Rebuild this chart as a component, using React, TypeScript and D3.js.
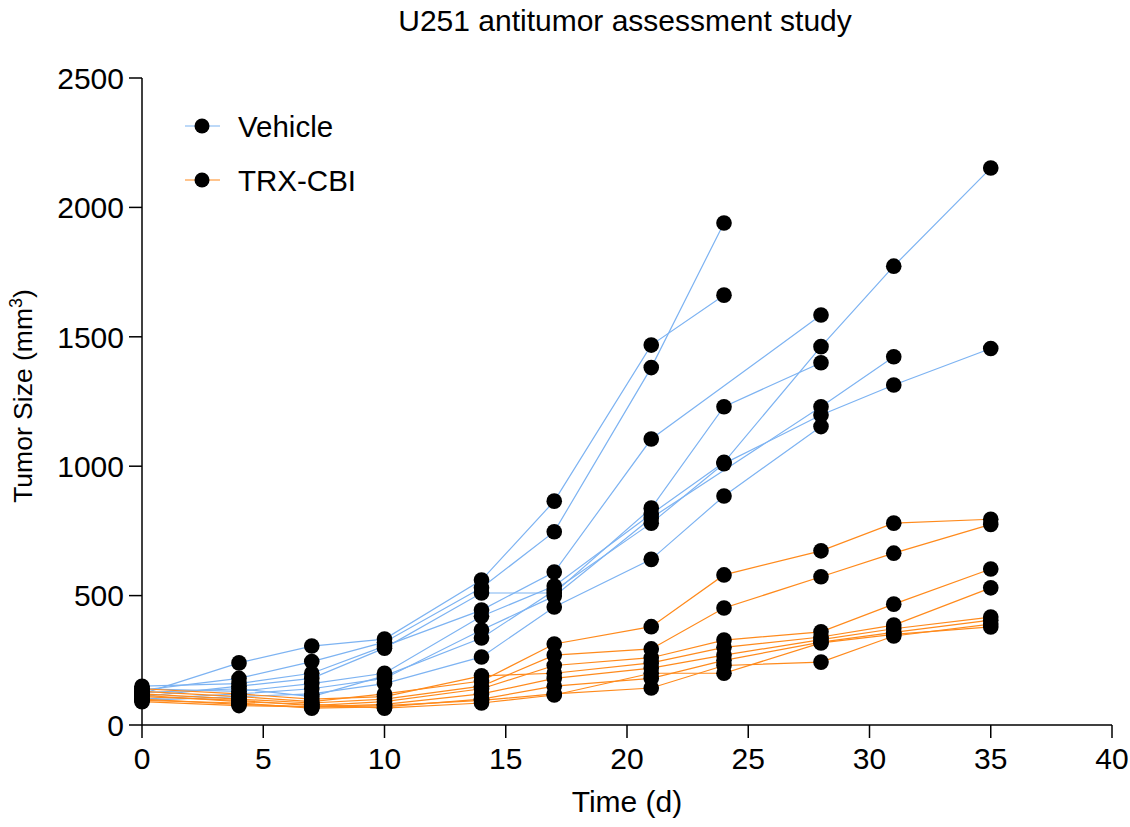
import * as d3 from 'd3';

// measurement days
const days = [0, 4, 7, 10, 14, 17, 21, 24, 28, 31, 35];

// Vehicle group, one array per mouse (null = no measurement)
const vehicle1 = [120, 240, 305, 332, 560, 865, 1468, 1661, null, null, null];
const vehicle2 = [135, 180, 245, 320, 530, 747, 1381, 1940, null, null, null];
const vehicle3 = [150, 160, 200, 305, 444, 591, 1105, null, 1584, null, null];
const vehicle4 = [110, 150, 180, 297, 510, 510, 838, 1230, 1400, null, null];
const vehicle5 = [140, 130, 160, 200, 420, 537, 815, 1015, 1462, 1773, 2152];
const vehicle6 = [100, 120, 140, 180, 367, 498, 800, null, 1230, 1423, null];
const vehicle7 = [95, 110, 120, 160, 263, 456, 640, 885, 1153, null, null];
const vehicle8 = [125, 140, 110, 190, 336, 520, 780, 1010, 1198, 1314, 1455];

// TRX-CBI group
const trx1 = [130, 110, 90, 120, 170, 313, 380, 580, 673, 780, 795];
const trx2 = [120, 100, 85, 100, 150, 270, 294, 452, 573, 664, 775];
const trx3 = [110, 95, 75, 90, 140, 230, 260, 328, 360, 467, 603];
const trx4 = [140, 120, 100, 110, 190, 200, 240, 300, 340, 386, 530];
const trx5 = [100, 80, 70, 80, 120, 180, 220, 270, 330, 372, 417];
const trx6 = [95, 85, 65, 70, 100, 150, 180, 250, 320, 358, 405];
const trx7 = [90, 75, 70, 75, 95, 120, 143, 230, 243, 344, 390];
const trx8 = [115, 90, 80, 65, 85, 116, 200, 200, 317, 350, 379];

const vehicleMice = [vehicle1, vehicle2, vehicle3, vehicle4, vehicle5, vehicle6, vehicle7, vehicle8];
const trxMice = [trx1, trx2, trx3, trx4, trx5, trx6, trx7, trx8];

const groupNames = ['Vehicle', 'TRX-CBI'];
const groupColors = ['#7db3f2', '#ff8a1c'];

const xTicks = [0, 5, 10, 15, 20, 25, 30, 35, 40];
const yTicks = [0, 500, 1000, 1500, 2000, 2500];

const font = '"Liberation Sans", Arial, sans-serif';

export default function App() {
  const width = 1130;
  const height = 827;
  const x = d3.scaleLinear().domain([0, 40]).range([142, 1112]);
  const y = d3.scaleLinear().domain([0, 2500]).range([725, 78]);

  const toPoints = (m: (number | null)[]) =>
    days.map((d, i) => [d, m[i]] as [number, number | null]).filter((p) => p[1] != null) as [number, number][];

  const line = d3
    .line<[number, number]>()
    .x((d) => x(d[0]))
    .y((d) => y(d[1]));

  const groups = [vehicleMice, trxMice];

  return (
    <svg
      width={width}
      height={height}
      style={{ position: 'absolute', left: 0, top: 0, background: '#fff' }}
      fontFamily={font}
    >
      {/* title */}
      <text x={625} y={31} textAnchor="middle" fontSize={30} fill="#000">
        U251 antitumor assessment study
      </text>

      {/* lines */}
      {groups.map((mice, gi) =>
        mice.map((m, i) => (
          <path
            key={`l${gi}-${i}`}
            d={line(toPoints(m)) || ''}
            fill="none"
            stroke={groupColors[gi]}
            strokeWidth={1.2}
          />
        ))
      )}

      {/* dots */}
      {groups.map((mice, gi) =>
        mice.map((m, i) =>
          toPoints(m).map((p, j) => (
            <circle key={`c${gi}-${i}-${j}`} cx={x(p[0])} cy={y(p[1])} r={7.8} fill="#000" />
          ))
        )
      )}

      {/* y axis */}
      <line x1={x(0)} x2={x(0)} y1={y(2500)} y2={y(0)} stroke="#000" strokeWidth={1.5} />
      {yTicks.map((t) => (
        <g key={`yt${t}`}>
          <line x1={x(0) - 13} x2={x(0)} y1={y(t)} y2={y(t)} stroke="#000" strokeWidth={1.5} />
          <text x={x(0) - 18} y={y(t)} dy="0.36em" textAnchor="end" fontSize={30} fill="#000">
            {t}
          </text>
        </g>
      ))}

      {/* x axis */}
      <line x1={x(0)} x2={x(40)} y1={y(0)} y2={y(0)} stroke="#000" strokeWidth={1.5} />
      {xTicks.map((t) => (
        <g key={`xt${t}`}>
          <line x1={x(t)} x2={x(t)} y1={y(0)} y2={y(0) + 13} stroke="#000" strokeWidth={1.5} />
          <text x={x(t)} y={y(0) + 44} textAnchor="middle" fontSize={30} fill="#000">
            {t}
          </text>
        </g>
      ))}

      {/* axis titles */}
      <text x={627} y={812} textAnchor="middle" fontSize={30} fill="#000">
        Time (d)
      </text>
      <text transform="translate(32,396) rotate(-90)" textAnchor="middle" fontSize={26.5} fill="#000">
        Tumor Size (mm<tspan dy={-10} fontSize={18}>3</tspan>
        <tspan dy={10}>)</tspan>
      </text>

      {/* legend */}
      {groupNames.map((name, i) => (
        <g key={name} transform={`translate(0,${126 + i * 54})`}>
          <line x1={185} x2={220} y1={0} y2={0} stroke={groupColors[i]} strokeWidth={1.2} />
          <circle cx={202} cy={0} r={7.5} fill="#000" />
          <text x={238} y={0} dy="0.36em" fontSize={29.5} fill="#000">
            {name}
          </text>
        </g>
      ))}
    </svg>
  );
}
